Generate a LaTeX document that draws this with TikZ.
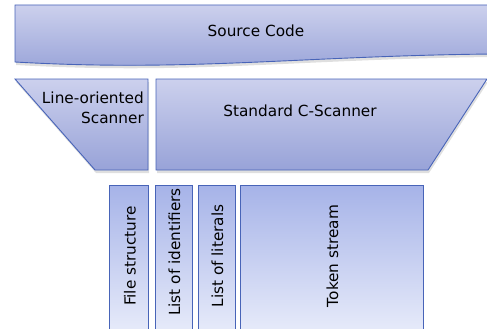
\documentclass[tikz,border=0pt]{standalone}
\usepackage{fontspec}
\setsansfont{DejaVu Sans}
\usetikzlibrary{shadows}
\definecolor{edgeblue}{RGB}{72,100,184}
\definecolor{lavtop}{RGB}{204,208,237}
\definecolor{lavbot}{RGB}{152,163,216}
\definecolor{outtop}{RGB}{166,179,232}
\definecolor{outbot}{RGB}{232,236,250}
\begin{document}
\begin{tikzpicture}
  [x=1pt,y=-1pt,font=\sffamily\fontsize{15.3}{20}\selectfont,
   stage/.style={draw=edgeblue,line width=0.9pt,top color=lavtop,bottom color=lavbot,
     drop shadow={shadow xshift=1pt,shadow yshift=-3pt,opacity=0.25}},
   output/.style={draw=edgeblue,line width=0.9pt,top color=outtop,bottom color=outbot},
   label/.style={inner sep=0pt,align=center},
   vlabel/.style={inner sep=0pt,rotate=90}]

  \useasboundingbox (0,0) rectangle (487,329);
  \clip (0,0) rectangle (487,329);

  \path[stage] (15,5) -- (492,5) -- (492,54) .. controls (300,56) and (190,72) .. (15,62) -- cycle;
  \node[label] (source) at (256,31) {Source Code};

  \path[stage] (15,79) -- (148,79) -- (148,170) -- (95,170) -- cycle;
  \node[label,align=right,anchor=east] (lineScan) at (144,108) {Line-oriented\\Scanner};

  \path[stage] (156,79) -- (487,79) -- (428,170) -- (156,170) -- cycle;
  \node[label] (cScan) at (300,111) {Standard C-Scanner};

  \path[output] (109,185) rectangle (148,335);
  \node[vlabel] (file) at (130,256) {File structure};
  \path[output] (155,185) rectangle (192,335);
  \node[vlabel] (idents) at (174.5,252) {List of identifiers};
  \path[output] (198,185) rectangle (235,335);
  \node[vlabel] (literals) at (217.5,256) {List of literals};
  \path[output] (240,185) rectangle (423,335);
  \node[vlabel] (tokens) at (332.5,256) {Token stream};

\end{tikzpicture}
\end{document}
